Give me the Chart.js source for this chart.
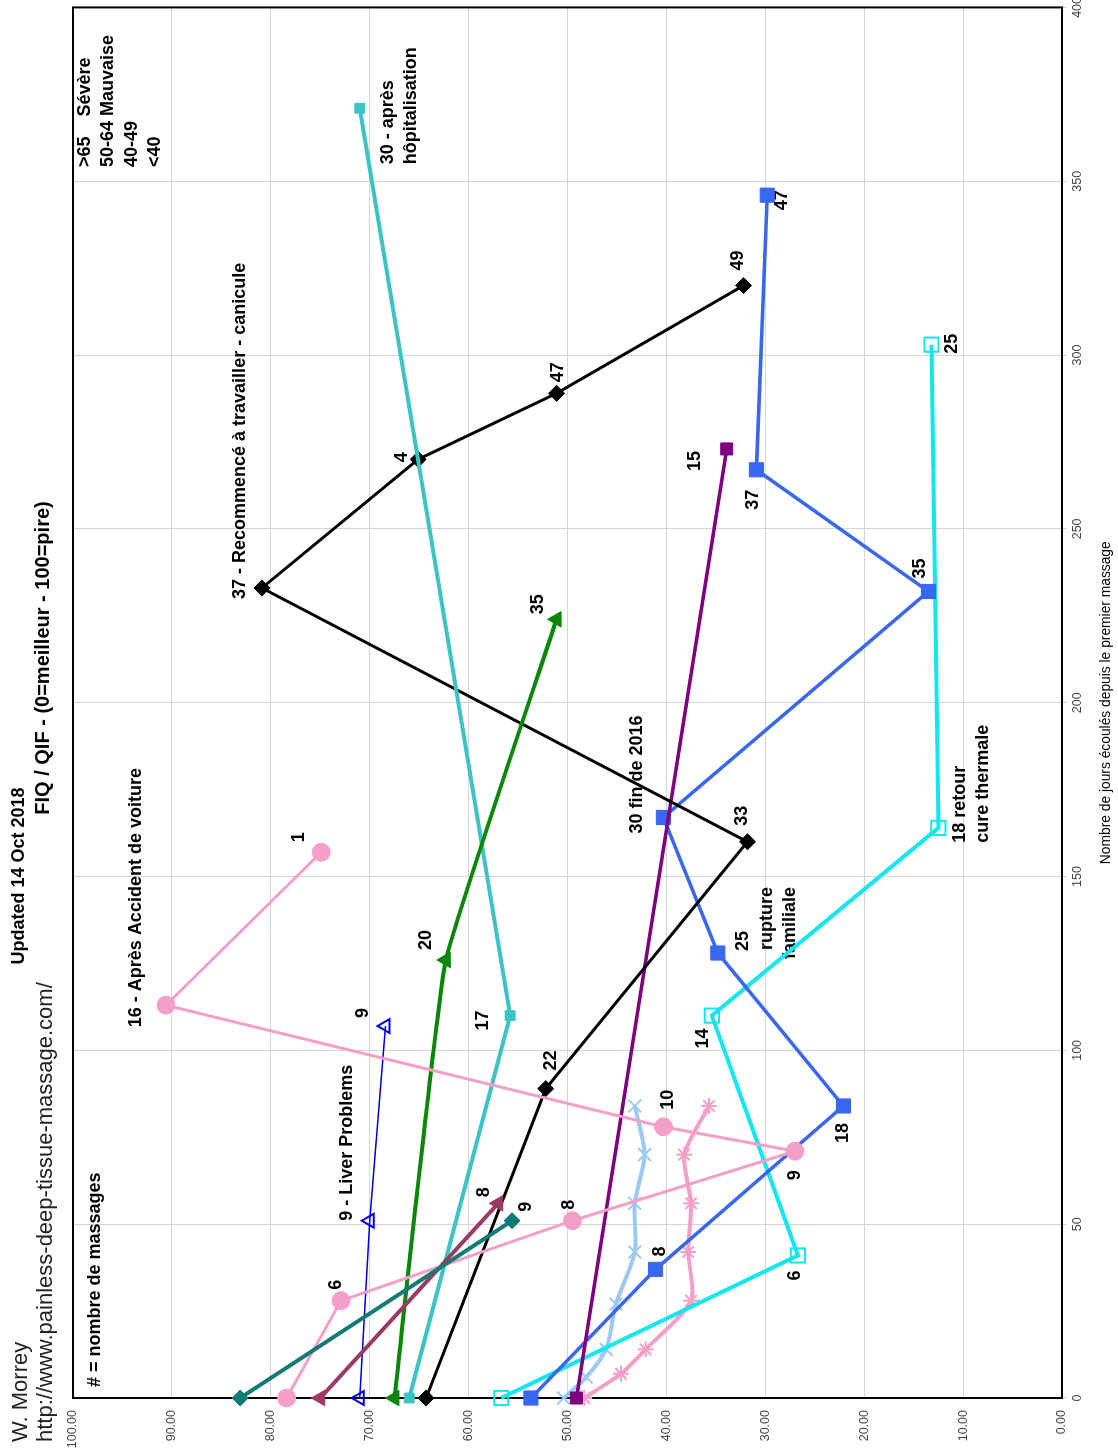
<!DOCTYPE html>
<html>
<head>
<meta charset="utf-8">
<script src="https://cdn.jsdelivr.net/npm/chart.js@4.4.1/dist/chart.umd.min.js"></script>
<style>
  html, body { margin: 0; padding: 0; background: #fff; overflow: hidden; }
  body { width: 1118px; height: 1450px; position: relative; }
  /* the original sheet is landscape and was turned a quarter turn */
  #wrap { position: absolute; left: 0; top: 0; width: 1456px; height: 1118px;
          transform-origin: 0 0; transform: translateY(1450px) rotate(-90deg); }
</style>
</head>
<body>
<div id="wrap"><canvas id="chart" width="1456" height="1118"></canvas></div>
<script>
// days since first massage -> FIQ score, one set of arrays per client
const tealDays = [0, 51];
const tealFiq = [83.1, 55.6];
const tealLabels = ['', '9'];

const pinkDays = [0, 28, 51, 71, 78, 113, 157];
const pinkFiq = [78.4, 72.9, 49.5, 27.0, 40.3, 90.6, 74.9];
const pinkLabels = ['', '6', '8', '9', '10', '16 - Après Accident de voiture', '1'];

const maroonDays = [0, 56];
const maroonFiq = [75.0, 57.0];
const maroonLabels = ['', '8'];

const liverDays = [0, 51, 107];
const liverFiq = [71.0, 70.0, 68.4];
const liverLabels = ['', '9 - Liver Problems', '9'];

const greenDays = [0, 126, 224];
const greenFiq = [67.5, 62.3, 51.1];
const greenLabels = ['', '20', '35'];

const turqDays = [0, 110, 371];
const turqFiq = [66.0, 55.8, 71.0];
const turqLabels = ['', '17', '30 - après\nhôpitalisation'];

const blackDays = [0, 89, 160, 233, 270, 289, 320];
const blackFiq = [64.3, 52.2, 31.8, 80.9, 65.1, 51.1, 32.2];
const blackLabels = ['', '22', '33', '37 - Recommencé à travailler - canicule', '4', '47', '49'];

const purpleDays = [0, 273];
const purpleFiq = [49.1, 33.9];
const purpleLabels = ['', '15'];

const blueDays = [0, 37, 84, 128, 167, 232, 267, 346];
const blueFiq = [53.7, 41.1, 22.1, 34.8, 40.3, 13.5, 30.9, 29.8];
const blueLabels = ['', '8', '18', '25', '30 fin de 2016', '35', '37', '47'];
const blueNotes = ['', '', '', 'rupture\nfamiliale', '', '', '', ''];

const cyanDays = [0, 41, 110, 164, 303];
const cyanFiq = [56.7, 26.7, 35.4, 12.5, 13.2];
const cyanLabels = ['', '6', '14', '18 retour\ncure thermale', '25'];

const skyDays = [0, 6, 14, 27, 42, 56, 70, 84];
const skyFiq = [50.4, 48.1, 46.1, 45.1, 43.2, 43.2, 42.2, 43.2];

const roseDays = [0, 7, 14, 28, 42, 56, 70, 84];
const roseFiq = [48.3, 44.6, 42.1, 37.5, 37.8, 37.5, 38.2, 35.7];

const dayTicks = [0, 50, 100, 150, 200, 250, 300, 350, 400];
const fiqTicks = [0, 10, 20, 30, 40, 50, 60, 70, 80, 90, 100];
const severity = ['>65    Sévère', '50-64 Mauvaise', '40-49', '<40'];

// where each point label sits relative to its point: [dx, dy, align]
const labelPos = {
  teal:   [null, [14, 14]],
  pink:   [null, [16, -5], [16, -3], [-24, 0], [27, 5], [-22, -30, 'left'], [15, -22]],
  maroon: [null, [11, -14]],
  liver:  [null, [0, -23, 'left'], [13, -22]],
  green:  [null, [20, -20], [15, -19]],
  turq:   [null, [-5, -27], [-56, 28, 'left']],
  black:  [null, [28, 5], [26, -5], [-11, -22, 'left'], [2, -16], [21, 1], [25, -6]],
  purple: [null, [-12, -32]],
  blue:   [null, [18, 5], [-27, 0], [12, 25], [-16, -26, 'left'], [23, -8], [-30, -3], [-5, 15]],
  cyan:   [null, [-20, -3], [-23, -9], [-15, 22, 'left'], [1, 21]]
};
const blueNotePos = [null, null, null, [66, 49, 'right']];

const sans = "'Liberation Sans', Arial, sans-serif";

function pts(days, fiq) {
  return days.map((d, i) => ({x: d, y: fiq[i]}));
}

function series(days, fiq, color, style, extra) {
  return Object.assign({
    data: pts(days, fiq),
    showLine: true,
    borderColor: color,
    backgroundColor: color,
    pointBackgroundColor: color,
    pointBorderColor: color,
    pointStyle: style,
    borderWidth: 3.5,
    pointRadius: 8,
    pointBorderWidth: 1,
    tension: 0,
    clip: false
  }, extra);
}

const annotate = {
  id: 'annotate',
  beforeDatasetsDraw(chart) {
    const {ctx, chartArea: a, scales: {x, y}} = chart;
    ctx.save();
    ctx.strokeStyle = '#000';
    ctx.lineWidth = 2;
    ctx.strokeRect(a.left, a.top, a.right - a.left, a.bottom - a.top);

    ctx.fillStyle = '#000';
    ctx.font = 'bold 18px ' + sans;
    ctx.textBaseline = 'middle';
    chart.data.datasets.forEach(ds => {
      [[ds.pointLabels, ds.labelPos], [ds.notes, ds.notePos]].forEach(([texts, pos]) => {
        if (!texts || !pos) return;
        texts.forEach((t, i) => {
          if (!t || !pos[i]) return;
          const [dx, dy, align] = pos[i];
          const px = x.getPixelForValue(ds.data[i].x) + dx;
          const py = y.getPixelForValue(ds.data[i].y) + dy;
          ctx.textAlign = align || 'center';
          t.split('\n').forEach((line, k) => ctx.fillText(line, px, py + k * 23));
        });
      });
    });

    ctx.textAlign = 'left';
    ctx.fillText('# = nombre de massages', 63, 95);
    severity.forEach((s, i) => ctx.fillText(s, 1283, 85 + i * 23.3));
    ctx.restore();
  },
  afterDraw(chart) {
    const ctx = chart.ctx;
    ctx.save();
    ctx.textBaseline = 'middle';
    ctx.fillStyle = '#222';
    ctx.textAlign = 'left';
    ctx.font = '22px ' + sans;
    ctx.fillText('W. Morrey', 8, 21);
    ctx.fillText('http://www.painless-deep-tissue-massage.com/', 8, 46);
    ctx.fillStyle = '#000';
    ctx.textAlign = 'center';
    ctx.font = 'bold 18px ' + sans;
    ctx.fillText('Updated 14 Oct 2018', 574, 19);
    ctx.font = 'bold 20px ' + sans;
    ctx.fillText('FIQ / QIF - (0=meilleur - 100=pire)', 792, 43);
    ctx.restore();
  }
};

const datasets = [
  Object.assign(series(tealDays, tealFiq, '#137b76', 'rectRot', {borderWidth: 4}),
    {pointLabels: tealLabels, labelPos: labelPos.teal}),
  Object.assign(series(pinkDays, pinkFiq, '#f49fc7', 'circle', {pointRadius: 9, borderWidth: 3}),
    {pointLabels: pinkLabels, labelPos: labelPos.pink}),
  Object.assign(series(maroonDays, maroonFiq, '#9c3a66', 'triangle', {borderWidth: 4, pointRadius: 9}),
    {pointLabels: maroonLabels, labelPos: labelPos.maroon}),
  Object.assign(series(liverDays, liverFiq, '#0000dd', 'triangle',
    {borderWidth: 1.5, pointBackgroundColor: 'rgba(0,0,0,0)', pointBorderWidth: 2, pointRadius: 8}),
    {pointLabels: liverLabels, labelPos: labelPos.liver}),
  Object.assign(series(greenDays, greenFiq, '#0a870a', 'triangle', {borderWidth: 4, pointRadius: 9, tension: 0.1}),
    {pointLabels: greenLabels, labelPos: labelPos.green}),
  Object.assign(series(turqDays, turqFiq, '#3cc3c3', 'rect', {borderWidth: 4, pointRadius: 7}),
    {pointLabels: turqLabels, labelPos: labelPos.turq}),
  Object.assign(series(blackDays, blackFiq, '#000000', 'rectRot', {borderWidth: 3}),
    {pointLabels: blackLabels, labelPos: labelPos.black}),
  Object.assign(series(purpleDays, purpleFiq, '#7f007f', 'rect', {pointRadius: 8.5}),
    {pointLabels: purpleLabels, labelPos: labelPos.purple}),
  Object.assign(series(blueDays, blueFiq, '#3967f0', 'rect', {pointRadius: 10}),
    {pointLabels: blueLabels, labelPos: labelPos.blue, notes: blueNotes, notePos: blueNotePos}),
  Object.assign(series(cyanDays, cyanFiq, '#12e6ef', 'rect',
    {borderWidth: 4, pointRadius: 10, pointBackgroundColor: 'rgba(0,0,0,0)', pointBorderWidth: 2}),
    {pointLabels: cyanLabels, labelPos: labelPos.cyan}),
  series(skyDays, skyFiq, '#9cc8f4', 'crossRot', {borderWidth: 4, pointRadius: 9, pointBorderWidth: 2, tension: 0.25}),
  series(roseDays, roseFiq, '#f49fc7', 'star', {borderWidth: 4, pointRadius: 8, pointBorderWidth: 2, tension: 0.25})
];

new Chart(document.getElementById('chart'), {
  type: 'scatter',
  data: {datasets: datasets},
  plugins: [annotate],
  options: {
    responsive: false,
    animation: false,
    events: [],
    layout: {padding: {top: 73, left: 2, right: 0, bottom: 0}},
    plugins: {legend: {display: false}, tooltip: {enabled: false}},
    scales: {
      x: {
        type: 'linear',
        min: 0,
        max: 400,
        afterBuildTicks: s => { s.ticks = dayTicks.map(v => ({value: v})); },
        afterFit: s => { s.height = 56; },
        grid: {color: '#d6d6d6', tickLength: 5},
        border: {display: false},
        ticks: {font: {family: sans, size: 12.5}, color: '#444', padding: 3, maxRotation: 0},
        title: {
          display: true,
          text: 'Nombre de jours écoulés depuis le premier massage',
          font: {family: sans, size: 13.8},
          color: '#000',
          padding: {top: 2, bottom: 4}
        }
      },
      y: {
        type: 'linear',
        min: 0,
        max: 100,
        afterBuildTicks: s => { s.ticks = fiqTicks.map(v => ({value: v})); },
        afterFit: s => { s.width = 50; },
        grid: {color: '#d6d6d6', drawTicks: false},
        border: {display: false},
        ticks: {font: {family: sans, size: 12.5}, color: '#444', padding: 12,
                callback: v => Number(v).toFixed(2)}
      }
    }
  }
});
</script>
</body>
</html>
